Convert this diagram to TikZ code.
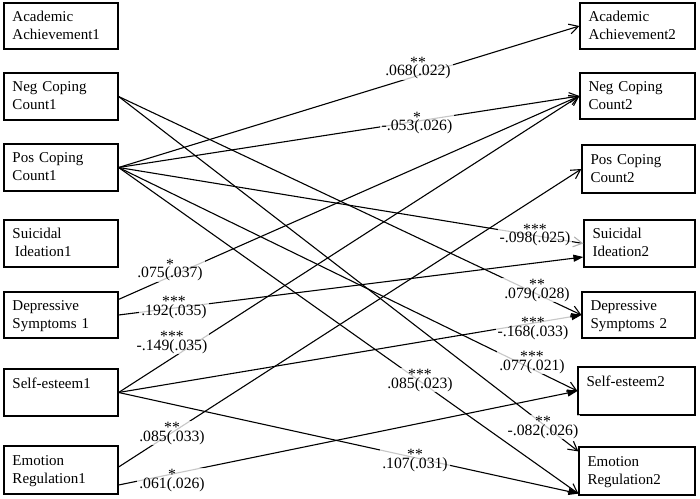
\documentclass[tikz,border=0pt]{standalone}
\usepackage{fontspec}
\setmainfont{Liberation Serif}
\usetikzlibrary{arrows.meta}
\newcommand\pcoef[2]{\setbox0=\hbox{#2}\rlap{\makebox[\wd0]{\raisebox{8.5bp}{#1}}}\box0}
\newcommand\bxs{\rule[-3bp]{0pt}{15bp}}
\begin{document}
\begin{tikzpicture}[x=1bp,y=-1bp,
  box/.style={draw, line width=1.2bp, inner xsep=8.5bp, inner ysep=0pt, align=left,
    font=\fontsize{15bp}{18bp}\selectfont, anchor=center},
  conn/.style={line width=1.1bp, draw=black},
  opena/.style={-{Straight Barb[length=9bp,width=10bp]}},
  filla/.style={-{Triangle[length=10bp,width=7bp]}},
  coef/.style={fill=white, fill opacity=0.78, text opacity=1, inner xsep=2bp, inner ysep=1bp,
    font=\fontsize{15.7bp}{18bp}\selectfont, anchor=base}]
\useasboundingbox (0,0) rectangle (700,499);
% left boxes
\node[box, minimum width=114bp, minimum height=46bp, text width=97bp] (aa1) at (61,26) {\bxs Academic\\\bxs Achievement1};
\node[box, minimum width=114bp, minimum height=47bp, text width=97bp] (nc1) at (61,96.5) {\bxs Neg Coping\\\bxs Count1};
\node[box, minimum width=114bp, minimum height=47bp, text width=97bp] (pc1) at (61,167.5) {\bxs Pos Coping\\\bxs Count1};
\node[box, minimum width=114bp, minimum height=47bp, text width=97bp] (si1) at (61,243.5) {\bxs Suicidal\\\bxs\hspace{2.5bp}Ideation1};
\node[box, minimum width=114bp, minimum height=46bp, text width=97bp] (ds1) at (61,315) {\bxs Depressive\\\bxs Symptoms 1};
\node[box, minimum width=114bp, minimum height=47bp, text width=97bp] (se1) at (61,392.5) {\bxs Self-esteem1\\\bxs};
\node[box, minimum width=114bp, minimum height=48bp, text width=97bp] (er1) at (61,470) {\bxs Emotion\\\bxs Regulation1};
% right boxes
\node[box, minimum width=115bp, minimum height=46bp, text width=98bp] (aa2) at (637.5,26) {\bxs Academic\\\bxs Achievement2};
\node[box, minimum width=115bp, minimum height=46bp, text width=98bp] (nc2) at (637.5,96) {\bxs Neg Coping\\\bxs Count2};
\node[box, minimum width=113bp, minimum height=48bp, text width=96bp] (pc2) at (638.5,169) {\bxs Pos Coping\\\bxs Count2};
\node[box, minimum width=111bp, minimum height=47bp, text width=94bp] (si2) at (639.5,243.5) {\bxs Suicidal\\\bxs Ideation2};
\node[box, minimum width=113bp, minimum height=46bp, text width=96bp] (ds2) at (638.5,315) {\bxs Depressive\\\bxs Symptoms 2};
\node[box, minimum width=117bp, minimum height=48bp, text width=100bp] (se2) at (636.5,391) {\bxs Self-esteem2\\\bxs};
\node[box, minimum width=116bp, minimum height=48bp, text width=99bp] (er2) at (637,471) {\bxs Emotion\\\bxs Regulation2};
% connectors
\draw[conn,opena] (pc1.east) -- (aa2.west);
\draw[conn,opena] (pc1.east) -- (nc2.west);
\draw[conn,-{Straight Barb[length=9bp,width=10bp,color=black!30]}] (pc1.east) -- (si2.west);
\draw[conn,opena] (pc1.east) -- (se2.west);
\draw[conn,opena] (pc1.east) -- ([yshift=2bp]er2.south west);
\draw[conn,opena] (nc1.east) -- (ds2.west);
\draw[conn,opena] (nc1.east) -- ([yshift=-5bp]er2.north west);
\draw[conn,opena] ([yshift=-8bp]ds1.north east) -- (nc2.west);
\draw[conn,filla] (ds1.east) -- ([yshift=-13.5bp]si2.west);
\draw[conn,opena] (se1.east) -- (nc2.west);
\draw[conn,filla] (se1.east) -- (ds2.west);
\draw[conn,filla] (se1.east) -- ([yshift=2bp]er2.south west);
\draw[conn,opena] ([yshift=3bp]er1.east) -- (pc2.west);
\draw[conn,filla] ([yshift=-15bp]er1.east) -- (se2.west);
% coefficients
\node[coef] (l1) at (418,76) {\pcoef{**}{.068(.022)}};
\node[coef] (l2) at (417,131) {\pcoef{*}{-.053(.026)}};
\node[coef] (l3) at (535,243) {\pcoef{***}{-.098(.025)}};
\node[coef] (l4) at (532,370) {\pcoef{***}{.077(.021)}};
\node[coef] (l5) at (420,388) {\pcoef{***}{.085(.023)}};
\node[coef] (l6) at (537,298) {\pcoef{**}{.079(.028)}};
\node[coef] (l7) at (543,435) {\pcoef{**}{-.082(.026)}};
\node[coef] (l8) at (170,278) {\pcoef{*}{.075(.037)}};
\node[coef] (l9) at (174,315) {\pcoef{***}{.192(.035)}};
\node[coef] (l10) at (172,350) {\pcoef{***}{-.149(.035)}};
\node[coef] (l11) at (533,336) {\pcoef{***}{-.168(.033)}};
\node[coef] (l12) at (415,468) {\pcoef{**}{.107(.031)}};
\node[coef] (l13) at (172,441) {\pcoef{**}{.085(.033)}};
\node[coef] (l14) at (172,488) {\pcoef{*}{.061(.026)}};
\end{tikzpicture}
\end{document}
